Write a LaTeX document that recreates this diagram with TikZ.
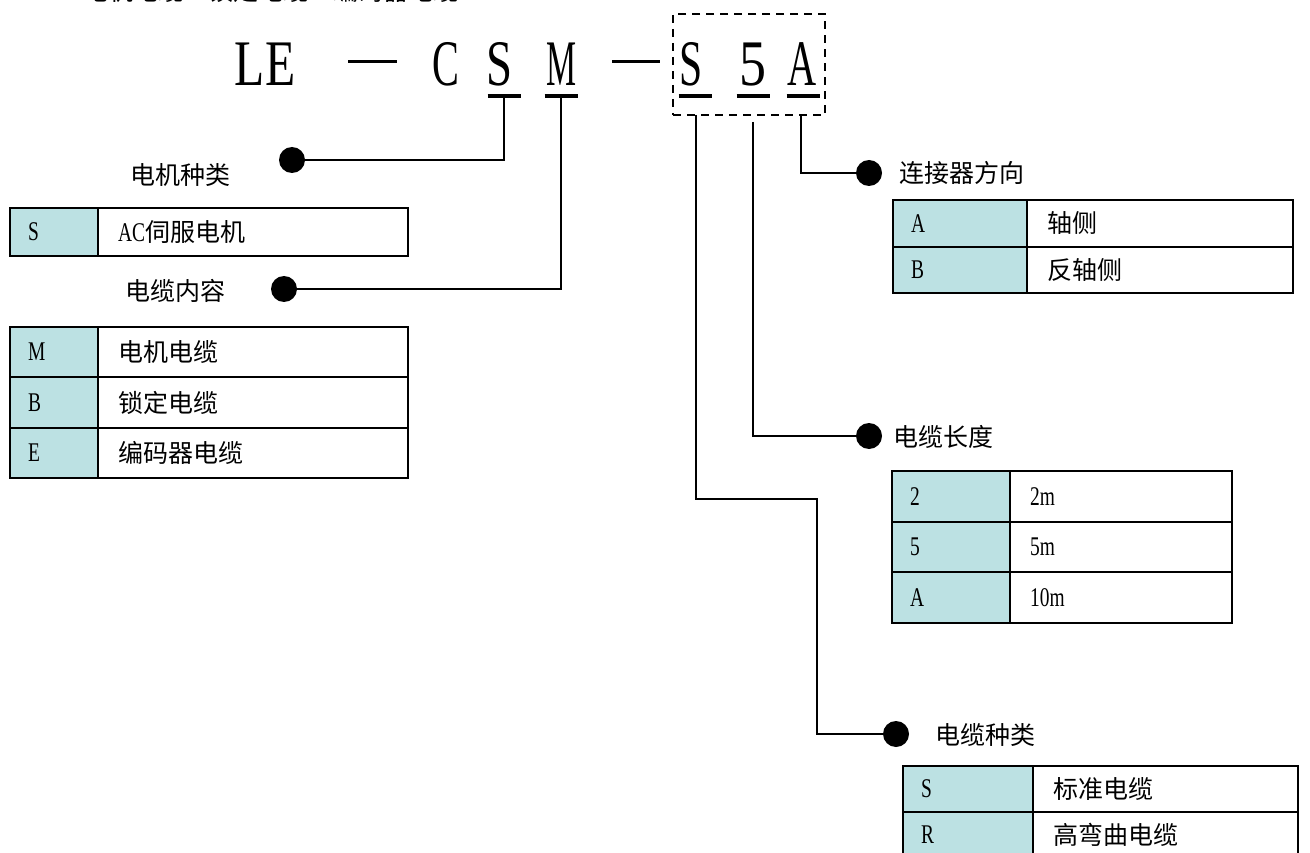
\documentclass[tikz,border=0pt]{standalone}
\usepackage{fontspec}
\usepackage{graphicx}
\setmainfont{Liberation Serif}
\newfontfamily\cjk{Noto Sans CJK SC}
\newfontfamily\narrowserif[FakeStretch=0.72]{Liberation Serif}
\definecolor{keyfill}{RGB}{188,225,227}

% one table row: name, x-left, x-divider, x-right, y-top, y-bottom, key, value
\newcommand\coderow[8]{%
  \draw[keycell] (#2,#5) rectangle (#3,#6);
  \draw[valcell] (#3,#5) rectangle (#4,#6);
  \node[keytext] (#1-k) at ({#2+18},{(#5+#6)/2}) {#7};
  \node[valtext] (#1-v) at ({#3+20},{(#5+#6)/2}) {#8};
}

\tikzset{
  keycell/.style={draw=black, line width=2.5pt, fill=keyfill},
  valcell/.style={draw=black, line width=2.5pt, fill=white},
  keytext/.style={anchor=west, inner sep=0pt, font=\narrowserif\fontsize{27}{30}\selectfont},
  valtext/.style={anchor=west, inner sep=0pt, font=\cjk\fontsize{25}{30}\selectfont},
  lbl/.style={anchor=west, inner sep=0pt, font=\cjk\fontsize{25}{30}\selectfont},
  ttl/.style={anchor=base, inner sep=0pt, font=\fontsize{65}{70}\selectfont},
  uline/.style={line width=4pt},
  bar/.style={line width=3pt},
  wire/.style={line width=2.5pt},
  dotnode/.style={circle, fill=black, minimum size=26pt, inner sep=0pt},
  codebox/.style={draw=black, line width=2pt, dash pattern=on 8pt off 6pt,
                  minimum width=152pt, minimum height=101pt, inner sep=0pt},
}

\begin{document}
\begin{tikzpicture}[x=1pt, y=-1pt]
\useasboundingbox (0,0) rectangle (1310,853);
\clip (0,0) rectangle (1310,853);

% heading line running off the top edge
\node[anchor=base west, inner sep=0pt, font=\cjk\fontsize{25}{30}\selectfont]
  (hdr) at (83,1) {电机电缆・锁定电缆・编码器电缆};

% part number
\node[ttl] (tL)  at (265,86) {\scalebox{0.76}[1]{LE}};
\node[ttl] (tC)  at (446,86) {\scalebox{0.62}[1]{C}};
\node[ttl] (tS)  at (500,86) {\scalebox{0.72}[1]{S}};
\node[ttl] (tM)  at (562,86) {\scalebox{0.52}[1]{M}};
\node[ttl] (tS2) at (691,86) {\scalebox{0.64}[1]{S}};
\node[ttl] (t5)  at (753,86) {\scalebox{0.83}[1]{5}};
\node[ttl] (tA)  at (802,86) {\scalebox{0.62}[1]{A}};
\draw[bar] (348,62) -- (397,62);
\draw[bar] (612,62) -- (660,62);

% dashed frame around the option letters
\node[codebox] (box) at (749,64.5) {};

% underline centres
\coordinate (u1) at (504,96);
\coordinate (u2) at (561,96);
\coordinate (u3) at (695,96);
\coordinate (u4) at (753,96);
\coordinate (u5) at (803,96);
\foreach \u in {u1,u2,u3,u4,u5}
  \draw[uline] ([xshift=-16.5pt]\u) -- ([xshift=16.5pt]\u);

% lead dots
\node[dotnode] (d1) at (292,160) {};
\node[dotnode] (d2) at (284,289) {};
\node[dotnode] (d3) at (869,173) {};
\node[dotnode] (d4) at (869,436) {};
\node[dotnode] (d5) at (896,734) {};

% leader lines
\coordinate (s0) at (696,115);
\coordinate (f0) at (753,122);
\coordinate (a0) at (801,115);
\coordinate (bend) at (817,499);
\draw[wire] (u1) |- (d1);
\draw[wire] (u2) |- (d2);
\draw[wire] (a0) |- (d3);
\draw[wire] (f0) |- (d4);
\draw[wire] (s0) |- (bend) |- (d5);

% captions
\node[lbl] (cap1) at (130,175) {电机种类};
\node[lbl] (cap2) at (125,291) {电缆内容};
\node[lbl] (cap3) at (899,173) {连接器方向};
\node[lbl] (cap4) at (893,437) {电缆长度};
\node[lbl] (cap5) at (935,735) {电缆种类};

% motor type
\coderow{ma}{10}{98}{408}{208}{256}{S}{{\narrowserif\fontsize{27}{30}\selectfont AC}伺服电机}

% cable content
\coderow{ca}{10}{98}{408}{327}{377}{M}{电机电缆}
\coderow{cb}{10}{98}{408}{377}{428}{B}{锁定电缆}
\coderow{cc}{10}{98}{408}{428}{478}{E}{编码器电缆}

% connector direction
\coderow{da}{893}{1027}{1293}{200}{247}{A}{轴侧}
\coderow{db}{893}{1027}{1293}{247}{293}{B}{反轴侧}

% cable length
\coderow{la}{892}{1010}{1232}{471}{522}{2}{{\narrowserif\fontsize{27}{30}\selectfont 2m}}
\coderow{lb}{892}{1010}{1232}{522}{572}{5}{{\narrowserif\fontsize{27}{30}\selectfont 5m}}
\coderow{lc}{892}{1010}{1232}{572}{623}{A}{{\narrowserif\fontsize{27}{30}\selectfont 10m}}

% cable type
\coderow{ka}{903}{1033}{1298}{766}{812}{S}{标准电缆}
\coderow{kb}{903}{1033}{1298}{812}{858}{R}{高弯曲电缆}
\end{tikzpicture}
\end{document}
